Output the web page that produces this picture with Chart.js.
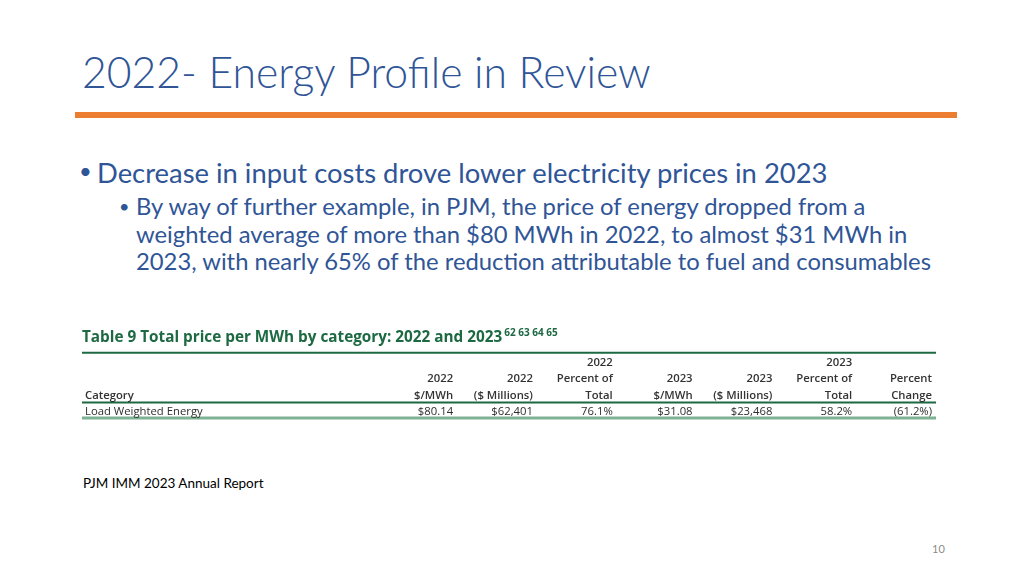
<!DOCTYPE html>
<html>
<head>
<meta charset="utf-8">
<script src="https://cdn.jsdelivr.net/npm/chart.js@4.4.1/dist/chart.umd.min.js"></script>
<style>
  html, body { margin: 0; padding: 0; background: #fff; }
  #slide { position: relative; width: 1024px; height: 576px; overflow: hidden; font-family: Lato, "Open Sans", sans-serif; }
  .t { position: absolute; white-space: nowrap; color: #2f5597; }
  #title { left: 82px; top: 46px; font-size: 42.7px; font-weight: 300; }
  #rule { position: absolute; left: 75px; top: 112px; width: 882px; height: 6px; background: #ed7d31; }
  #d1 { left: 79px; top: 157px; font-size: 22px; }
  #b1 { left: 97px; top: 156px; font-size: 27.4px; }
  #d2 { left: 119px; top: 195px; font-size: 18px; }
  #b2 { left: 136px; top: 193px; font-size: 23.8px; line-height: 27.5px; }
  #src { left: 83px; top: 475px; font-size: 13.5px; color: #000; }
  #page { left: 932px; top: 542px; font-size: 11px; color: #8c8c8c; }
  #tbl { position: absolute; left: 0; top: 0; }
</style>
</head>
<body>
<div id="slide">
  <div class="t" id="title">2022- Energy Profile in Review</div>
  <div id="rule"></div>
  <div class="t" id="d1">&bull;</div>
  <div class="t" id="b1">Decrease in input costs drove lower electricity prices in 2023</div>
  <div class="t" id="d2">&bull;</div>
  <div class="t" id="b2">By way of further example, in PJM, the price of energy dropped from a<br>weighted average of more than $80 MWh in 2022, to almost $31 MWh in<br>2023, with nearly 65% of the reduction attributable to fuel and consumables</div>
  <div class="t" id="src">PJM IMM 2023 Annual Report</div>
  <div class="t" id="page">10</div>
  <canvas id="tbl" width="1024" height="576"></canvas>
</div>
<script>
// table data
var tableTitle = 'Table 9 Total price per MWh by category: 2022 and 2023';
var footnotes = '62 63 64 65';
var headerTop = ['', '', '2022', '', '', '2023', ''];
var headerMid = ['2022', '2022', 'Percent of', '2023', '2023', 'Percent of', 'Percent'];
var headerBot = ['$/MWh', '($ Millions)', 'Total', '$/MWh', '($ Millions)', 'Total', 'Change'];
var categories = ['Load Weighted Energy'];
var price2022 = [80.14];
var millions2022 = [62401];
var share2022 = [76.1];
var price2023 = [31.08];
var millions2023 = [23468];
var share2023 = [58.2];
var percentChange = [-61.2];

var green = 'rgb(28, 105, 66)';
var lightGreen = 'rgb(125, 178, 148)';

function money(v, d) {
    return '$' + v.toLocaleString('en-US', { minimumFractionDigits: d, maximumFractionDigits: d });
}
function pct(v) {
    return v < 0 ? '(' + Math.abs(v).toFixed(1) + '%)' : v.toFixed(1) + '%';
}

// one point per cell: x = column, y = row
var cells = [];
for (let c = 0; c < headerBot.length; c++) {
    cells.push({ x: c + 1, y: 0, text: headerTop[c], head: true });
    cells.push({ x: c + 1, y: 1, text: headerMid[c], head: true });
    cells.push({ x: c + 1, y: 2, text: headerBot[c], head: true });
}
cells.push({ x: -3.6, y: 2, text: 'Category', head: true, left: true });
for (let r = 0; r < categories.length; r++) {
    const row = 3 + r;
    cells.push({ x: -3.6, y: row, text: categories[r], left: true });
    cells.push({ x: 1, y: row, text: money(price2022[r], 2) });
    cells.push({ x: 2, y: row, text: money(millions2022[r], 0) });
    cells.push({ x: 3, y: row, text: pct(share2022[r]) });
    cells.push({ x: 4, y: row, text: money(price2023[r], 2) });
    cells.push({ x: 5, y: row, text: money(millions2023[r], 0) });
    cells.push({ x: 6, y: row, text: pct(share2023[r]) });
    cells.push({ x: 7, y: row, text: pct(percentChange[r]) });
}

const tablePlugin = {
    id: 'tableText',
    afterDatasetsDraw(chart) {
        const ctx = chart.ctx;
        const ys = chart.scales.y;
        const area = chart.chartArea;
        const meta = chart.getDatasetMeta(0);
        ctx.save();
        // title
        ctx.fillStyle = green;
        ctx.font = 'bold 15.3px "Open Sans", sans-serif';
        ctx.textAlign = 'left';
        ctx.textBaseline = 'middle';
        const ty = ys.getPixelForValue(-1.5);
        ctx.fillText(tableTitle, area.left, ty);
        const tw = ctx.measureText(tableTitle).width;
        ctx.font = 'bold 10px "Open Sans", sans-serif';
        ctx.fillText(footnotes, area.left + tw + 2, ty - 4);
        // rules
        function rule(y, w, col) {
            const py = ys.getPixelForValue(y);
            ctx.strokeStyle = col;
            ctx.lineWidth = w;
            ctx.beginPath();
            ctx.moveTo(area.left, py);
            ctx.lineTo(area.right, py);
            ctx.stroke();
        }
        rule(-0.55, 2, green);
        rule(2.5, 2, green);
        rule(2.5 + categories.length - 0.05, 3, lightGreen);
        // cells
        meta.data.forEach(function(el, i) {
            const c = cells[i];
            ctx.font = (c.head ? '600 ' : '') + '11.3px "Open Sans", sans-serif';
            ctx.fillStyle = c.head ? '#333' : '#2e2e2e';
            ctx.textAlign = c.left ? 'left' : 'right';
            ctx.fillText(c.text, c.left ? area.left + 3 : el.x, el.y + 1);
        });
        ctx.restore();
    }
};

new Chart(document.getElementById('tbl'), {
    type: 'scatter',
    data: {
        datasets: [{
            data: cells,
            pointRadius: 0,
            pointHoverRadius: 0
        }]
    },
    options: {
        responsive: false,
        animation: false,
        events: [],
        layout: { padding: { left: 82, right: 88, top: 329, bottom: 149 } },
        plugins: { legend: { display: false }, tooltip: { enabled: false } },
        scales: {
            x: { type: 'linear', min: -3.65, max: 7.05, display: false },
            y: { type: 'linear', min: -2, max: 4, reverse: true, display: false }
        }
    },
    plugins: [tablePlugin]
});
</script>
</body>
</html>
